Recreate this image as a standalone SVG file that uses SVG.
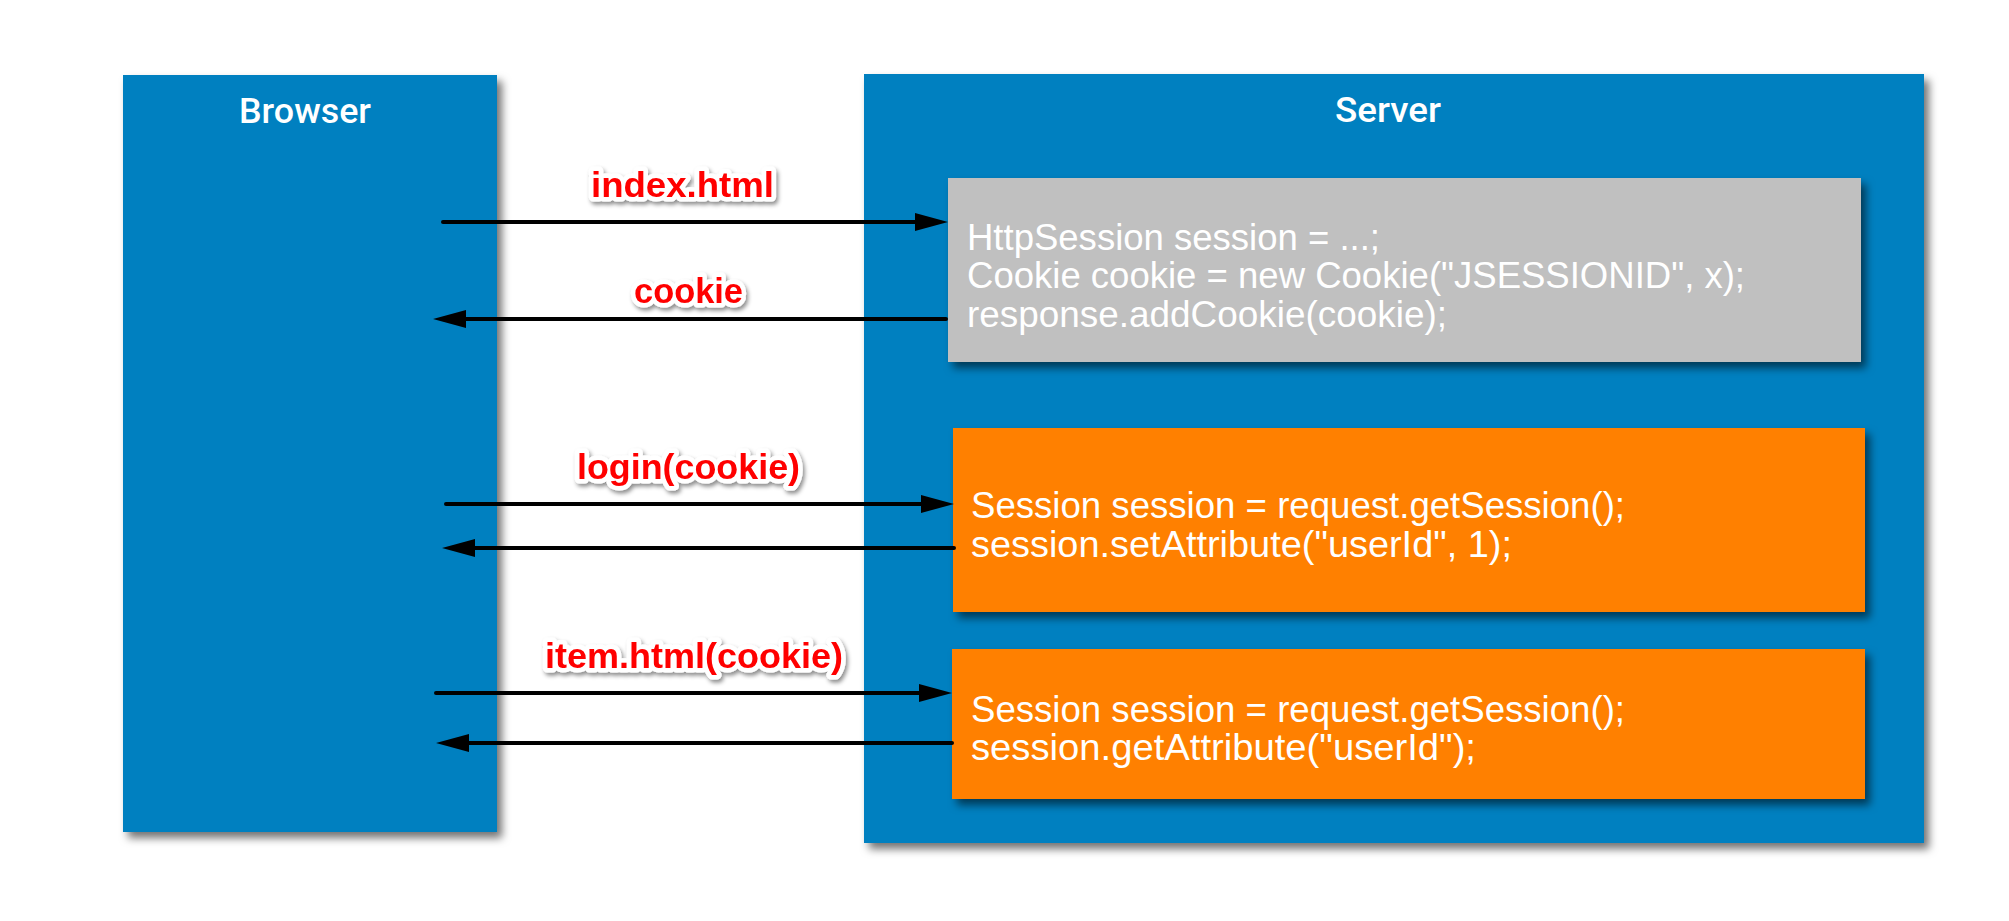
<svg xmlns="http://www.w3.org/2000/svg" width="2009" height="921" viewBox="0 0 2009 921">
<defs>
<filter id="sh" x="-10%" y="-10%" width="130%" height="130%">
<feDropShadow dx="5" dy="6" stdDeviation="4" flood-color="#000" flood-opacity="0.55"/>
</filter>
<filter id="lsh" x="-10%" y="-20%" width="130%" height="150%">
<feDropShadow dx="2" dy="3" stdDeviation="2" flood-color="#000" flood-opacity="0.45"/>
</filter>
<marker id="ah" markerUnits="userSpaceOnUse" markerWidth="34" markerHeight="20" refX="23" refY="9" orient="auto">
<path d="M0,0 L33,9 L0,18 z" fill="#000"/>
</marker>
<style>
.blue{fill:#0080C0;filter:url(#sh)}
.gray{fill:#C0C0C0;filter:url(#sh)}
.orange{fill:#FF8000;filter:url(#sh)}
.title{font-family:Roboto,"Liberation Sans",Arial,sans-serif;font-size:35px;font-weight:500;fill:#fff}
.code{font-family:"Liberation Sans",Arial,sans-serif;font-size:36.5px;fill:#fff}
.lbl{font-family:"Liberation Sans",Arial,sans-serif;font-size:35px;font-weight:bold;fill:#FF0000;stroke:#fff;stroke-width:9px;stroke-linejoin:round;paint-order:stroke;filter:url(#lsh)}
.conn{stroke:#000;stroke-width:4;fill:none;stroke-linecap:round;marker-end:url(#ah)}
</style>
</defs>
<rect width="2009" height="921" fill="#fff"/>
<g id="browser">
<rect class="blue" x="123" y="75" width="374" height="757"/>
<text class="title" x="239" y="123" textLength="132" lengthAdjust="spacingAndGlyphs">Browser</text>
</g>
<g id="server">
<rect class="blue" x="864" y="74" width="1060" height="769"/>
<text class="title" x="1335" y="122" textLength="106" lengthAdjust="spacingAndGlyphs">Server</text>
</g>
<g id="create-session">
<rect class="gray" x="948" y="178" width="913" height="184"/>
<text class="code" x="967" y="250" textLength="413" lengthAdjust="spacingAndGlyphs">HttpSession session = ...;</text>
<text class="code" x="967" y="288" textLength="778" lengthAdjust="spacingAndGlyphs">Cookie cookie = new Cookie("JSESSIONID", x);</text>
<text class="code" x="967" y="327" textLength="480" lengthAdjust="spacingAndGlyphs">response.addCookie(cookie);</text>
</g>
<g id="login-handler">
<rect class="orange" x="953" y="428" width="912" height="184"/>
<text class="code" x="971" y="518" textLength="654" lengthAdjust="spacingAndGlyphs">Session session = request.getSession();</text>
<text class="code" x="971" y="557" textLength="541" lengthAdjust="spacingAndGlyphs">session.setAttribute("userId", 1);</text>
</g>
<g id="item-handler">
<rect class="orange" x="952" y="649" width="913" height="150"/>
<text class="code" x="971" y="722" textLength="654" lengthAdjust="spacingAndGlyphs">Session session = request.getSession();</text>
<text class="code" x="971" y="760" textLength="505" lengthAdjust="spacingAndGlyphs">session.getAttribute("userId");</text>
</g>
<g id="connectors">
<line class="conn" x1="443" y1="222" x2="938" y2="222"/>
<line class="conn" x1="946" y1="319" x2="443" y2="319"/>
<line class="conn" x1="446" y1="504" x2="944" y2="504"/>
<line class="conn" x1="954" y1="548" x2="452" y2="548"/>
<line class="conn" x1="436" y1="693" x2="942" y2="693"/>
<line class="conn" x1="952" y1="743" x2="446" y2="743"/>
<text class="lbl" x="591" y="197" textLength="183" lengthAdjust="spacingAndGlyphs">index.html</text>
<text class="lbl" x="634" y="303" textLength="109" lengthAdjust="spacingAndGlyphs">cookie</text>
<text class="lbl" x="577" y="479" textLength="223" lengthAdjust="spacingAndGlyphs">login(cookie)</text>
<text class="lbl" x="545" y="668" textLength="298" lengthAdjust="spacingAndGlyphs">item.html(cookie)</text>
</g>
</svg>
